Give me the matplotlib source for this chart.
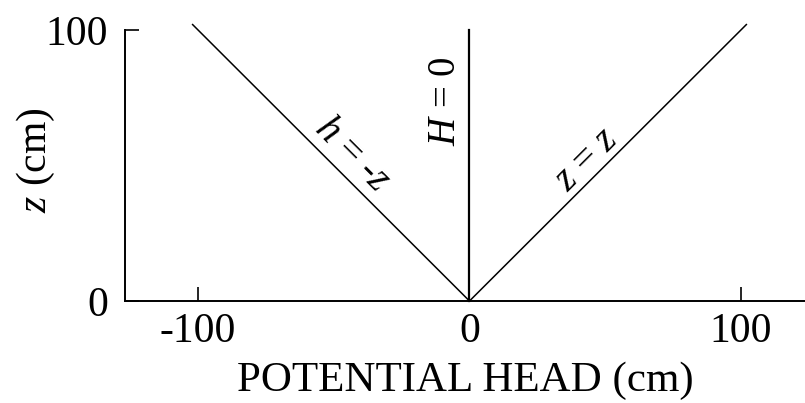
import matplotlib
matplotlib.use('Agg')
import matplotlib.pyplot as plt
import numpy as np

plt.rcParams['font.family'] = 'Liberation Serif'
plt.rcParams['mathtext.fontset'] = 'custom'
plt.rcParams['mathtext.rm'] = 'Liberation Serif'
plt.rcParams['mathtext.it'] = 'Liberation Serif:italic'

# elevation above the reference level (cm)
z = np.array([0, 102])
# gravitational head equals z, pressure head is -z at hydrostatic equilibrium
grav_head = z
pressure_head = -z
total_head = np.array([0, 0])
z_total = np.array([0, 100])

xticks = [-100, 0, 100]
yticks = [0, 100]

fig = plt.figure(figsize=(8.05, 4.03), dpi=100)
ax = fig.add_axes([0.1553, 0.2531, 0.8447, 0.6725])

ax.plot(pressure_head, z, color='black', lw=1.1, clip_on=False)
ax.plot(grav_head, z, color='black', lw=1.1, clip_on=False)
ax.plot(total_head, z_total, color='black', lw=1.6, clip_on=False)

ax.set_xlim(-126.9, 123.6)
ax.set_ylim(0, 100)
ax.set_xticks(xticks)
ax.set_yticks(yticks)
ax.tick_params(direction='in', length=10, width=1.2, labelsize=30, colors='black')
ax.tick_params(axis='y', pad=12)
ax.tick_params(axis='x', pad=8)
ax.set_xticklabels(['-100', '0', '100'])

for side in ('top', 'right'):
    ax.spines[side].set_visible(False)
for side in ('left', 'bottom'):
    ax.spines[side].set_linewidth(1.4)

ax.set_xlabel('POTENTIAL HEAD (cm)', fontsize=31, labelpad=8)
ax.set_ylabel(r'$z$ (cm)', fontsize=30)
ax.yaxis.set_label_coords(-0.1, 0.52)

ax.text(-43.3, 53.9, r'$h$ = -$z$', fontsize=28, rotation=-45,
        ha='center', va='center', rotation_mode='anchor')
ax.text(-8.7, 73.8, r'$H$ = 0', fontsize=28, rotation=90,
        ha='center', va='center', rotation_mode='anchor')
ax.text(43.3, 52.0, r'$z$ = $z$', fontsize=28, rotation=45,
        ha='center', va='center', rotation_mode='anchor')

fig.savefig('out.png', dpi=100)
